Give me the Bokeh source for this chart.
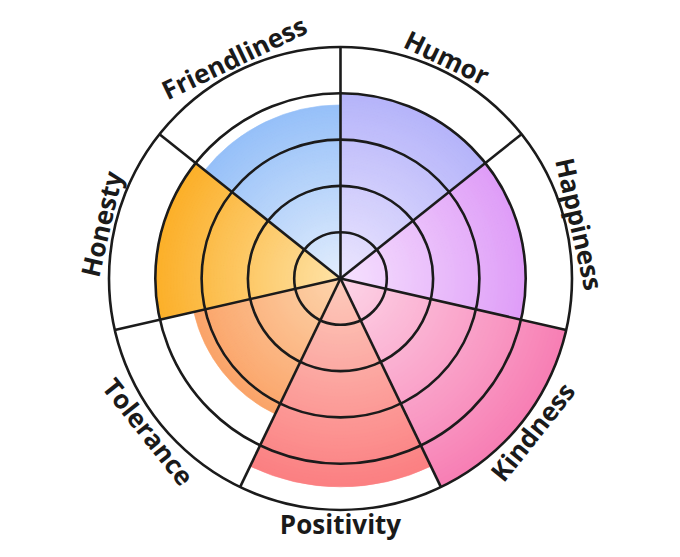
import math
from bokeh.plotting import figure
from bokeh.models import Range1d, ColumnDataSource
from bokeh.core.properties import value
from bokeh.embed import file_html
from bokeh.resources import INLINE

# ---- data ----
categories = ["Humor", "Happiness", "Kindness", "Positivity", "Tolerance", "Honesty", "Friendliness"]
scores = [4.0, 4.0, 5.0, 4.5, 3.25, 4.0, 3.75]
ring_levels = [1, 2, 3, 4, 5]
max_level = 5

# ---- style ----
outer_colors = ["#a8a8f9", "#d98cf6", "#f77fb4", "#fb777c", "#f98a45", "#fba30a", "#7db1f7"]
inner_colors = ["#ece6fe", "#f6e2fe", "#fdd6e8", "#fdccbd", "#fdd5ad", "#fee3a8", "#e3eefd"]
line_col = "#1b1b1b"
W, H = 664, 541
cx_px, cy_px = 340, 278
unit_px = 46.3

def hex2rgb(h):
    h = h.lstrip("#")
    return tuple(int(h[i:i + 2], 16) for i in (0, 2, 4))

def mix(c1, c2, t):
    a, b = hex2rgb(c1), hex2rgb(c2)
    return "#%02x%02x%02x" % tuple(int(round(a[i] + (b[i] - a[i]) * t)) for i in range(3))

n = len(categories)
step = 2 * math.pi / n
# segments go clockwise starting at 12 o'clock
starts, ends = [], []
for i in range(n):
    hi = math.pi / 2 - i * step
    lo = hi - step
    starts.append(lo)
    ends.append(hi)

p = figure(width=W, height=H, output_backend="svg", toolbar_location=None,
           x_axis_type=None, y_axis_type=None, min_border=0,
           x_range=Range1d(-cx_px / unit_px, (W - cx_px) / unit_px),
           y_range=Range1d(-(H - cy_px) / unit_px, cy_px / unit_px))
p.grid.visible = False
p.outline_line_color = None
p.background_fill_color = "white"
p.border_fill_color = "white"

# gradient fills: stacked wedges from outer to inner
NB = 60
wx, wy, wr, ws, we, wc = [], [], [], [], [], []
for i in range(n):
    for k in range(NB, 0, -1):
        r = scores[i] * k / NB
        t = r / max_level
        wx.append(0); wy.append(0); wr.append(r)
        ws.append(starts[i]); we.append(ends[i])
        wc.append(mix(inner_colors[i], outer_colors[i], t))
src = ColumnDataSource(dict(x=wx, y=wy, r=wr, s=ws, e=we, c=wc))
p.wedge(x="x", y="y", radius="r", start_angle="s", end_angle="e",
        fill_color="c", line_color="c", line_width=0.6, source=src)

# rings
p.circle(x=[0] * len(ring_levels), y=[0] * len(ring_levels), radius=ring_levels,
         fill_color=None, line_color=line_col, line_width=2.6)

# spokes
sx1 = [max_level * math.cos(a) for a in ends]
sy1 = [max_level * math.sin(a) for a in ends]
p.segment(x0=[0] * n, y0=[0] * n, x1=sx1, y1=sy1, line_color=line_col, line_width=2.6)

# labels
lr = 5.3
lx, ly, la = [], [], []
for i in range(n):
    mid = (starts[i] + ends[i]) / 2
    lx.append(lr * math.cos(mid))
    ly.append(lr * math.sin(mid))
    if math.sin(mid) > 0.01:
        la.append(mid - math.pi / 2)
    else:
        la.append(mid + math.pi / 2)
lsrc = ColumnDataSource(dict(x=lx, y=ly, a=la, t=categories))
p.text(x="x", y="y", text="t", angle="a", source=lsrc,
       text_font=value("Open Sans"), text_font_style="bold", text_font_size="26px",
       text_color="#1a1a1a", text_align="center", text_baseline="middle")

open("out.html", "w").write(file_html(p, INLINE))
